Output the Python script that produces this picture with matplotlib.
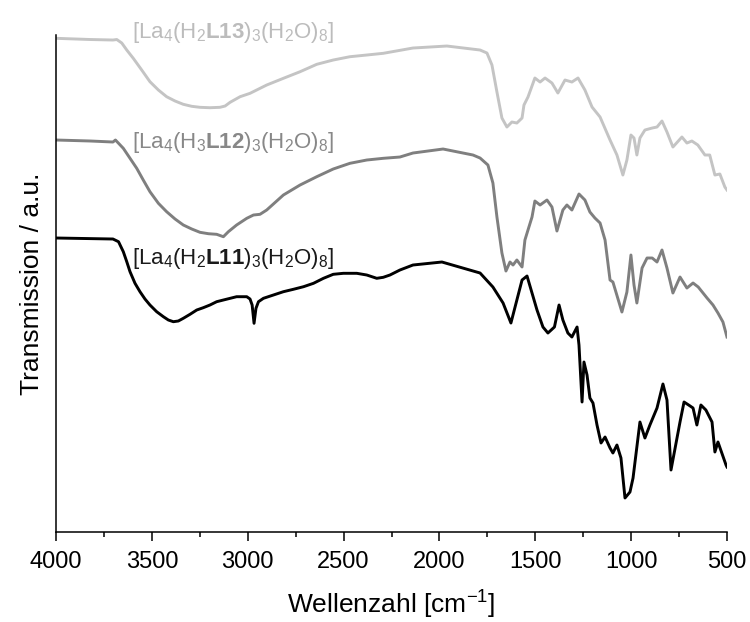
import matplotlib
matplotlib.use("Agg")
import matplotlib.pyplot as plt
from matplotlib.ticker import MultipleLocator

plt.rcParams['font.family'] = ['Liberation Sans', 'DejaVu Sans']
plt.rcParams['mathtext.fontset'] = 'custom'
plt.rcParams['mathtext.rm'] = 'Liberation Sans'
plt.rcParams['mathtext.it'] = 'Liberation Sans:italic'
plt.rcParams['mathtext.bf'] = 'Liberation Sans:bold'

# ---- data (wavenumber in cm^-1, transmission in arbitrary units) ----
wn_l13 = [4000, 3820, 3703, 3683, 3657, 3631, 3597, 3553, 3510, 3466, 3423, 3379,
          3336, 3292, 3249, 3197, 3145, 3118, 3092, 3040, 2988, 2901, 2814, 2727,
          2640, 2554, 2467, 2379, 2293, 2138, 1961, 1788, 1752, 1726, 1700, 1674,
          1648, 1622, 1596, 1569, 1559, 1538, 1502, 1475, 1449, 1413, 1382, 1345,
          1309, 1277, 1241, 1204, 1162, 1110, 1074, 1043, 1022, 1001, 985, 970,
          954, 928, 890, 865, 839, 813, 782, 735, 709, 683, 652, 615, 590, 563,
          537, 511, 500]
t_l13 = [493.7, 492.5, 492, 492.5, 489, 482, 473.7, 462, 450.3, 442, 435.3, 431,
         427.7, 425.7, 424.7, 424.3, 424.7, 426, 429.7, 435.3, 438.7, 447, 453.7, 460.3,
         467.7, 472, 475.3, 477, 478.7, 484, 486, 482, 479, 467, 440, 414,
         405, 410, 409, 414, 427, 435, 454, 450, 454, 449, 439, 452,
         450, 454, 442, 425, 415, 392, 377, 357, 372, 397, 394, 377,
         394, 402, 404, 405, 411, 400, 385, 395, 389, 391, 387, 377, 377, 357,
         358, 345, 342]

wn_l12 = [4000, 3820, 3703, 3690, 3649, 3614, 3579, 3545, 3510, 3466, 3423, 3379,
          3336, 3292, 3249, 3205, 3162, 3127, 3101, 3058, 3005, 2970, 2936, 2901,
          2814, 2727, 2640, 2554, 2467, 2379, 2293, 2206, 2138, 1981, 1825,
          1788, 1747, 1721, 1700, 1674, 1653, 1632, 1616, 1596, 1569, 1554, 1538,
          1517, 1502, 1475, 1439, 1413, 1387, 1356, 1335, 1309, 1272, 1241, 1215,
          1189, 1162, 1136, 1110, 1095, 1048, 1022, 1001, 985, 970, 943, 917,
          890, 865, 839, 813, 782, 745, 709, 677, 650, 604, 573, 547, 521, 500]
t_l12 = [392, 391, 390, 392, 383.7, 373.7, 363.7, 352, 340.3, 328.7, 320.3, 313,
         307, 303, 299.7, 298.3, 297.7, 295.3, 300.3, 307, 313.7, 317, 317.7, 322,
         337, 347, 355.3, 363, 368.7, 372, 373.7, 375, 379, 383, 377,
         374, 367, 349, 315, 279, 261, 270, 267, 272, 265, 292, 302,
         315, 331, 327, 332, 325, 301, 322, 327, 322, 338, 332, 320,
         314, 309, 292, 252, 250, 220, 240, 277, 247, 229, 264, 274,
         274, 270, 282, 264, 239, 255, 244, 249, 245, 234, 227, 219, 210, 195]

wn_l11 = [4000, 3703, 3674, 3649, 3631, 3614, 3588, 3562, 3536, 3510, 3475, 3440,
          3414, 3388, 3362, 3336, 3301, 3266, 3232, 3197, 3162, 3127, 3058, 3005,
          2988, 2977, 2967, 2957, 2944, 2918, 2866, 2814, 2762, 2709, 2657, 2605,
          2554, 2501, 2431, 2379, 2327, 2293, 2258, 2206, 2138, 1987, 1788, 1721,
          1668, 1627, 1596, 1569, 1543, 1517, 1491, 1460, 1434, 1400, 1376, 1356,
          1330, 1309, 1282, 1272, 1256, 1246, 1230, 1215, 1199, 1178, 1157, 1136,
          1110, 1095, 1074, 1053, 1032, 1006, 990, 954, 928, 902, 865, 834,
          813, 792, 745, 724, 700, 677, 657, 636, 610, 578, 563, 547, 505, 500]
t_l11 = [294, 293, 290.3, 280.3, 270.3, 260.3, 248.7, 240.3, 233, 227, 220.3, 215.3,
         212, 210.3, 211, 213.7, 217.7, 222, 224.3, 227, 230.3, 232, 235.3, 235.3,
         233, 227, 208.7, 223.7, 230.3, 233.7, 237, 240.3, 242.7, 245.3, 248.7, 253.7,
         257.7, 258.7, 258.7, 257, 253.7, 254.7, 257, 262, 267, 270, 259, 245,
         229, 209, 232, 252, 256, 239, 222, 205, 199, 205, 227, 212,
         199, 195, 205, 187, 130, 170, 157, 134, 129, 107, 89, 95,
         84, 79, 87, 74, 34, 40, 54, 110, 94, 107, 124, 148,
         132, 62, 110, 130, 127, 124, 107, 127, 122, 110, 80, 90, 67, 65]

labels = [r'[La$_4$(H$_2$$\mathbf{L13}$)$_3$(H$_2$O)$_8$]',
          r'[La$_4$(H$_3$$\mathbf{L12}$)$_3$(H$_2$O)$_8$]',
          r'[La$_4$(H$_2$$\mathbf{L11}$)$_3$(H$_2$O)$_8$]']
x_ticks = [4000, 3500, 3000, 2500, 2000, 1500, 1000, 500]

fig = plt.figure(figsize=(7.5, 6.22), dpi=100)
ax = fig.add_axes([0.0747, 0.1447, 0.8946, 0.799])

ax.plot(wn_l13, t_l13, color='#c4c4c4', lw=2.1, solid_joinstyle='round')
ax.plot(wn_l12, t_l12, color='#7f7f7f', lw=2.1, solid_joinstyle='round')
ax.plot(wn_l11, t_l11, color='#000000', lw=2.1, solid_joinstyle='round')

ax.text(3604, 494, labels[0], color='#bcbcbc', fontsize=16, va='baseline', ha='left')
ax.text(3604, 384, labels[1], color='#888888', fontsize=16, va='baseline', ha='left')
ax.text(3604, 268, labels[2], color='#1a1a1a', fontsize=16, va='baseline', ha='left')

ax.set_xlim(4000, 500)
ax.set_ylim(0, 497)
ax.set_xticks(x_ticks)
ax.xaxis.set_minor_locator(MultipleLocator(250))
ax.tick_params(axis='x', which='major', direction='out', length=6.7, width=1.1,
               labelsize=17, pad=7)
ax.tick_params(axis='x', which='minor', direction='out', length=3.6, width=1.1)
ax.set_yticks([])
for s in ['top', 'right']:
    ax.spines[s].set_visible(False)
for s in ['left', 'bottom']:
    ax.spines[s].set_linewidth(1.1)

ax.set_xlabel(r'Wellenzahl [cm$^{-1}$]', fontsize=19, labelpad=11)
ax.set_ylabel('Transmission / a.u.', fontsize=19, labelpad=9)

fig.savefig('out.png', dpi=100)
